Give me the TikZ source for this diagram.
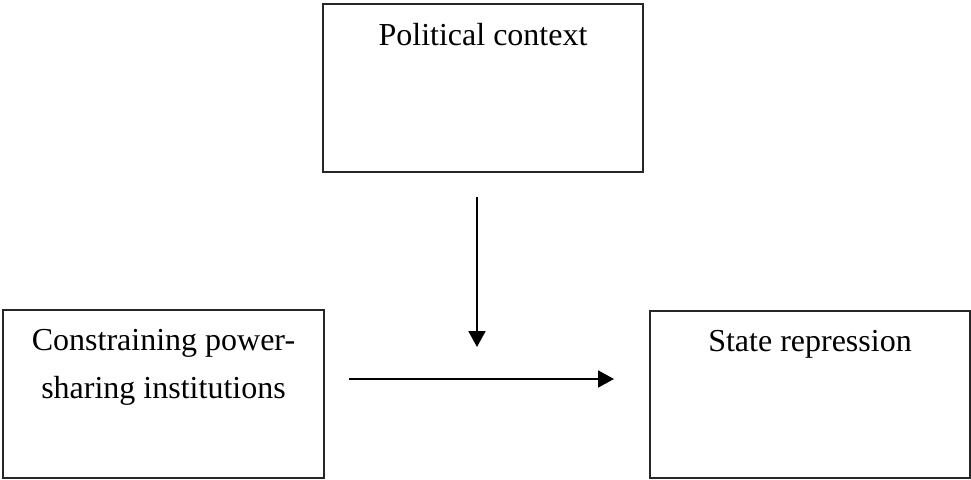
\documentclass[tikz,border=0pt]{standalone}
\usepackage{fontspec}
\setmainfont{Liberation Serif}
\usepackage{tikz}
\usetikzlibrary{positioning}
\usetikzlibrary{arrows.meta}

\begin{document}
\begin{tikzpicture}[
    x=0.5pt, y=0.5pt,
    box/.style={
      draw=black!85,
      line width=0.8pt,
      minimum width=160pt,
      minimum height=84pt,
      inner sep=0pt,
      rectangle
    },
    caption/.style={
      inner sep=0pt,
      align=center,
      font=\fontsize{16}{24}\selectfont
    },
    link/.style={
      line width=1pt,
      -{Triangle[length=8pt, width=8.5pt]}
    }
  ]
  \useasboundingbox (0,0) rectangle (971,479);

  % boxes
  \node[box] (ctx) at (483,391) {};
  \node[box, minimum width=160.5pt] (inst) at (163.5,85) {};
  \node[box, minimum height=83.5pt] (rep) at (810,84.5) {};

  \node[caption, below=10pt of ctx.north] (ctxtext) {Political context};
  \node[caption, below=10pt of inst.north] (insttext) {Constraining power-\\sharing institutions};
  \node[caption, below=10pt of rep.north] (reptext) {State repression};

  % arrows
  \coordinate (modtop) at (477,282);
  \coordinate (modend) at (477,132);
  \coordinate (effstart) at (349,100);
  \coordinate (effend) at (614,100);

  \draw[link] (modtop) -- (modend);
  \draw[link] (effstart) -- (effend);

\end{tikzpicture}
\end{document}
